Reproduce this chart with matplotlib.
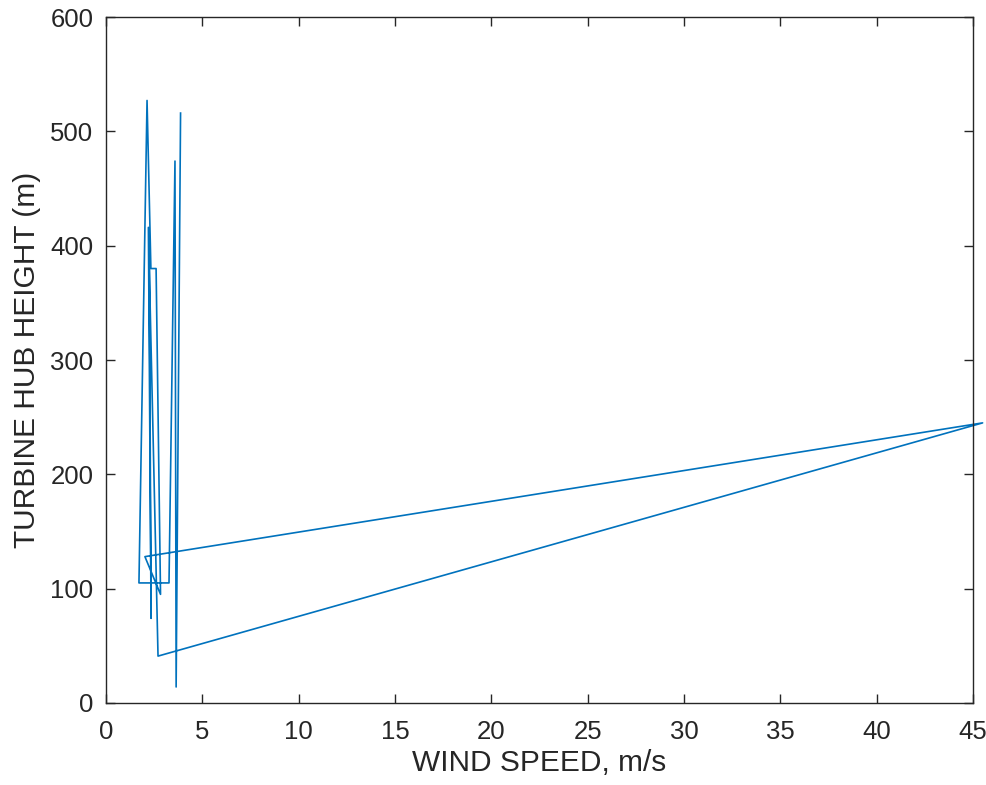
import numpy as np
import matplotlib
matplotlib.use("Agg")
import matplotlib.pyplot as plt

# wind speed (m/s) and hub height (m), in plotting order
wind_speed = [3.87, 3.64, 3.58, 3.27, 1.71, 2.13, 2.33, 2.6, 2.83, 2.02, 45.5, 2.7, 2.2, 2.34, 2.25]
hub_height = [516, 14, 474, 105, 105, 527, 380, 380, 95, 128, 245, 41, 416, 74, 380]

xticks = np.arange(0, 46, 5)
yticks = np.arange(0, 601, 100)

plt.rcParams['font.family'] = ['Liberation Sans', 'DejaVu Sans']

fig = plt.figure(figsize=(9.87, 7.85), dpi=100)
ax = fig.add_axes([0.1074, 0.1045, 0.8784, 0.8738])
ax.plot(wind_speed, hub_height, color='#0072BD', lw=1.2, clip_on=False)

ax.set_xlim(0, 45)
ax.set_ylim(0, 600)
ax.set_xticks(xticks)
ax.set_yticks(yticks)
ax.tick_params(direction='in', top=True, right=True, length=6.5, width=1.0,
               labelsize=18.5, colors='#262626')
ax.tick_params(axis='x', pad=12)
ax.tick_params(axis='y', pad=9)
for s in ax.spines.values():
    s.set_color('#262626')
    s.set_linewidth(1.0)

ax.set_xlabel('WIND SPEED, m/s', fontsize=21.5, color='#262626', labelpad=4)
ax.set_ylabel('TURBINE HUB HEIGHT (m)', fontsize=21.5, color='#262626', labelpad=7)

fig.savefig('out.png', dpi=100)
